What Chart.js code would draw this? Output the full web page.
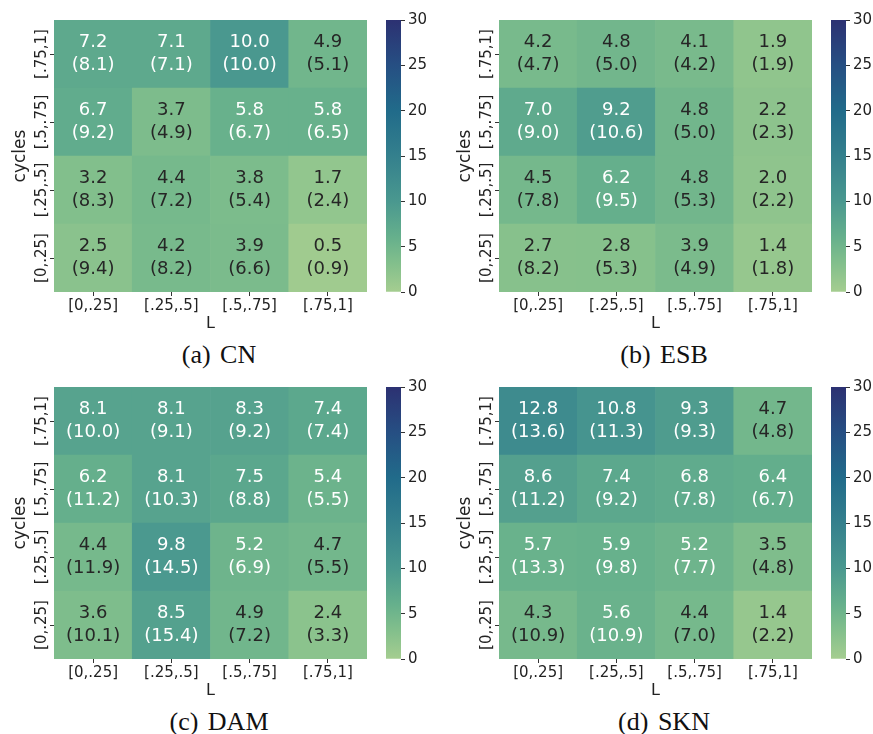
<!DOCTYPE html>
<html lang="en">
<head>
    <meta charset="UTF-8">
    <title>Heatmaps</title>
    <script src="https://cdn.jsdelivr.net/npm/chart.js"></script>
    <style>
        body {
            margin: 0;
            background: white;
            width: 873px;
            height: 734px;
            position: relative;
            overflow: hidden;
        }
        .panel {
            position: absolute;
            width: 440px;
            height: 367px;
        }
        .panel canvas {
            position: absolute;
            top: 0;
        }
        .caption {
            position: absolute;
            left: 119px;
            width: 200px;
            top: 340px;
            line-height: 30px;
            text-align: center;
            font-family: 'Liberation Serif', serif;
            font-size: 26px;
            color: #111;
            word-spacing: 3px;
        }
    </style>
</head>
<body>
    <div id="wrap"></div>

    <script>
        // rows go bottom -> top, same order as yLabels
        const xLabels = ['[0,.25]', '[.25,.5]', '[.5,.75]', '[.75,1]'];
        const yLabels = ['[0,.25]', '[.25,.5]', '[.5,.75]', '[.75,1]'];

        const cnVal = [[2.5, 4.2, 3.9, 0.5], [3.2, 4.4, 3.8, 1.7], [6.7, 3.7, 5.8, 5.8], [7.2, 7.1, 10.0, 4.9]];
        const cnPar = [[9.4, 8.2, 6.6, 0.9], [8.3, 7.2, 5.4, 2.4], [9.2, 4.9, 6.7, 6.5], [8.1, 7.1, 10.0, 5.1]];

        const esbVal = [[2.7, 2.8, 3.9, 1.4], [4.5, 6.2, 4.8, 2.0], [7.0, 9.2, 4.8, 2.2], [4.2, 4.8, 4.1, 1.9]];
        const esbPar = [[8.2, 5.3, 4.9, 1.8], [7.8, 9.5, 5.3, 2.2], [9.0, 10.6, 5.0, 2.3], [4.7, 5.0, 4.2, 1.9]];

        const damVal = [[3.6, 8.5, 4.9, 2.4], [4.4, 9.8, 5.2, 4.7], [6.2, 8.1, 7.5, 5.4], [8.1, 8.1, 8.3, 7.4]];
        const damPar = [[10.1, 15.4, 7.2, 3.3], [11.9, 14.5, 6.9, 5.5], [11.2, 10.3, 8.8, 5.5], [10.0, 9.1, 9.2, 7.4]];

        const sknVal = [[4.3, 5.6, 4.4, 1.4], [5.7, 5.9, 5.2, 3.5], [8.6, 7.4, 6.8, 6.4], [12.8, 10.8, 9.3, 4.7]];
        const sknPar = [[10.9, 10.9, 7.0, 2.2], [13.3, 9.8, 7.7, 4.8], [11.2, 9.2, 7.8, 6.7], [13.6, 11.3, 9.3, 4.8]];

        const cbarMin = 0;
        const cbarMax = 30;

        // approximate seaborn "crest"
        const crest = [
            [0.0, [165, 205, 144]],
            [0.1, [132, 192, 140]],
            [0.2, [102, 176, 140]],
            [0.333, [74, 152, 143]],
            [0.5, [52, 128, 141]],
            [0.667, [33, 107, 138]],
            [0.833, [38, 79, 131]],
            [1.0, [44, 49, 114]]
        ];

        function cmap(v) {
            let t = (v - cbarMin) / (cbarMax - cbarMin);
            t = Math.max(0, Math.min(1, t));
            for (let i = 1; i < crest.length; i++) {
                if (t <= crest[i][0]) {
                    const [t0, c0] = crest[i - 1];
                    const [t1, c1] = crest[i];
                    const f = (t - t0) / (t1 - t0);
                    const c = c0.map((a, k) => Math.round(a + (c1[k] - a) * f));
                    return `rgb(${c[0]},${c[1]},${c[2]})`;
                }
            }
            const c = crest[crest.length - 1][1];
            return `rgb(${c[0]},${c[1]},${c[2]})`;
        }

        const panels = [
            { caption: '(a) CN', val: cnVal, par: cnPar, dx: 0, dy: 0 },
            { caption: '(b) ESB', val: esbVal, par: esbPar, dx: 445, dy: 0 },
            { caption: '(c) DAM', val: damVal, par: damPar, dx: 0, dy: 367 },
            { caption: '(d) SKN', val: sknVal, par: sknPar, dx: 445, dy: 367 }
        ];

        const tickColor = '#222';
        const family = "'DejaVu Sans', sans-serif";

        const annotPlugin = {
            id: 'annot',
            afterDatasetsDraw(chart) {
                const { ctx } = chart;
                const p = chart.options.plugins.annot;
                ctx.save();
                ctx.font = '18px ' + family;
                ctx.textAlign = 'center';
                ctx.textBaseline = 'middle';
                chart.data.datasets.forEach((ds, r) => {
                    chart.getDatasetMeta(r).data.forEach((el, c) => {
                        const { x, y, base } = el.getProps(['x', 'y', 'base'], true);
                        const cy = (y + base) / 2;
                        const v = p.val[r][c];
                        ctx.fillStyle = v > 5 ? '#ffffff' : '#262626';
                        ctx.fillText(v.toFixed(1), x, cy - 11.5);
                        ctx.fillText('(' + p.par[r][c].toFixed(1) + ')', x, cy + 11);
                    });
                });
                ctx.restore();
            }
        };

        function makeHeatmap(canvas, panel) {
            return new Chart(canvas.getContext('2d'), {
                type: 'bar',
                data: {
                    labels: xLabels,
                    datasets: panel.val.map((row, r) => ({
                        data: row.map(() => [r, r + 1]),
                        backgroundColor: row.map(cmap),
                        borderWidth: 0,
                        barPercentage: 1,
                        categoryPercentage: 1,
                        grouped: false
                    }))
                },
                options: {
                    responsive: false,
                    animation: false,
                    layout: { padding: { top: 20, right: 8, left: 0, bottom: 0 } },
                    plugins: {
                        legend: { display: false },
                        tooltip: { enabled: false },
                        annot: { val: panel.val, par: panel.par }
                    },
                    scales: {
                        x: {
                            type: 'category',
                            grid: { display: true, drawOnChartArea: false, drawTicks: true, tickLength: 4, offset: false, color: '#333' },
                            border: { display: false },
                            ticks: { color: tickColor, font: { family, size: 15 }, padding: 1, maxRotation: 0, autoSkip: false },
                            title: { display: true, text: 'L', color: tickColor, font: { family, size: 16 }, padding: { top: 0, bottom: 0 } },
                            afterFit(s) { s.height = 41; }
                        },
                        y: {
                            type: 'linear',
                            min: 0,
                            max: yLabels.length,
                            grid: { display: true, drawOnChartArea: false, drawTicks: true, tickLength: 4, color: '#333' },
                            border: { display: false },
                            afterBuildTicks(s) {
                                s.ticks = yLabels.map((_, i) => ({ value: i + 0.5 }));
                            },
                            ticks: {
                                color: tickColor,
                                font: { family, size: 15 },
                                minRotation: 90,
                                maxRotation: 90,
                                crossAlign: 'center',
                                padding: -19,
                                autoSkip: false,
                                callback: (v) => yLabels[Math.floor(v)]
                            },
                            title: { display: true, text: 'cycles', color: tickColor, font: { family, size: 17 }, padding: { top: 10, bottom: 0 } },
                            afterFit(s) { s.width = 54; }
                        }
                    }
                },
                plugins: [annotPlugin]
            });
        }

        function makeColorbar(canvas) {
            return new Chart(canvas.getContext('2d'), {
                type: 'bar',
                data: {
                    labels: [''],
                    datasets: [{
                        data: [[cbarMin, cbarMax]],
                        borderWidth: 0,
                        barPercentage: 1,
                        categoryPercentage: 1,
                        backgroundColor(ctx) {
                            const area = ctx.chart.chartArea;
                            if (!area) return cmap(0);
                            const g = ctx.chart.ctx.createLinearGradient(0, area.bottom, 0, area.top);
                            crest.forEach(([t, c]) => g.addColorStop(t, `rgb(${c[0]},${c[1]},${c[2]})`));
                            return g;
                        }
                    }]
                },
                options: {
                    responsive: false,
                    animation: false,
                    layout: { padding: { top: 20, left: 6, right: 0, bottom: 41 } },
                    plugins: { legend: { display: false }, tooltip: { enabled: false } },
                    scales: {
                        x: { display: false },
                        y: {
                            position: 'right',
                            min: cbarMin,
                            max: cbarMax,
                            grid: { display: true, drawOnChartArea: false, drawTicks: true, tickLength: 4, color: '#333' },
                            border: { display: false },
                            ticks: { stepSize: 5, color: tickColor, font: { family, size: 15 }, padding: 3 },
                            afterFit(s) { s.width = 40; }
                        }
                    }
                }
            });
        }

        const wrap = document.getElementById('wrap');
        panels.forEach(panel => {
            const div = document.createElement('div');
            div.className = 'panel';
            div.style.left = panel.dx + 'px';
            div.style.top = panel.dy + 'px';

            const hm = document.createElement('canvas');
            hm.width = 375; hm.height = 333;
            hm.style.left = '0px';
            div.appendChild(hm);

            const cb = document.createElement('canvas');
            cb.width = 61; cb.height = 333;
            cb.style.left = '380px';
            div.appendChild(cb);

            const cap = document.createElement('div');
            cap.className = 'caption';
            cap.textContent = panel.caption;
            div.appendChild(cap);

            wrap.appendChild(div);
            makeHeatmap(hm, panel);
            makeColorbar(cb);
        });
    </script>
</body>
</html>
